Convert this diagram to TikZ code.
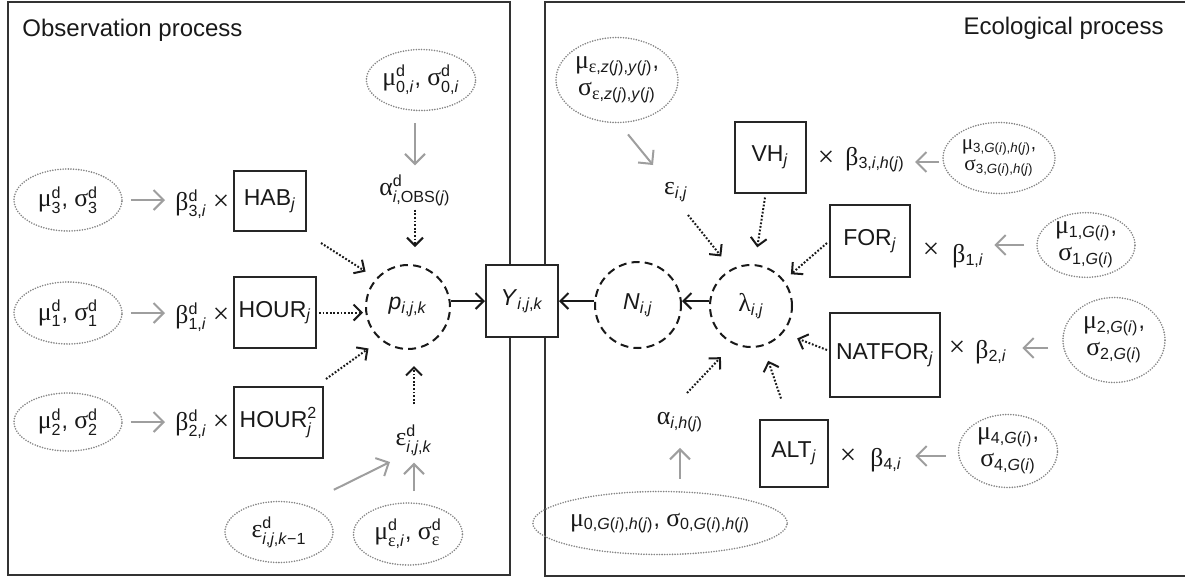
\documentclass[tikz,border=0pt]{standalone}
\usepackage{amsmath}
\usepackage{fontspec}
\setmainfont{Liberation Sans}
\newfontfamily\gkf{Liberation Serif}[Scale=1.12]
\usetikzlibrary{arrows.meta,shapes.geometric}
\newcommand{\SP}[2]{$^{\text{#1}}_{\text{#2}}$}
\newcommand{\SB}[1]{$_{\text{#1}}$}
\newcommand{\gr}[1]{{\gkf #1}}
\newcommand{\vi}{\textit{i}}
\newcommand{\vj}{\textit{j}}
\newcommand{\vk}{\textit{k}}
\newcommand{\vG}{\textit{G}(\textit{i})}
\newcommand{\vh}{\textit{h}(\textit{j})}
\begin{document}
\begin{tikzpicture}[x=0.5pt,y=-0.5pt,
 every node/.style={font=\fontsize{11.5}{13.5}\selectfont, inner sep=1pt, text=black!90},
 box/.style={draw=black!85, line width=1pt, fill=white, inner sep=0pt},
 ell/.style={ellipse, draw=black!48, line width=0.9pt, line cap=round, dash pattern=on 0pt off 1.3pt, inner sep=0pt, align=center},
 circ/.style={circle, draw=black!90, line width=1pt, dash pattern=on 4pt off 2.6pt, inner sep=0pt},
 frame/.style={draw=black!80, line width=1.2pt},
 garr/.style={draw=black!38, line width=1pt, -{Straight Barb[length=5pt,width=10pt]}},
 darr/.style={draw=black!90, line width=1pt, dash pattern=on 0.9pt off 0.9pt, -{Straight Barb[length=4pt,width=8pt]}},
 sarr/.style={draw=black!90, line width=1pt, -{Straight Barb[length=4pt,width=8pt]}},
 lab/.style={anchor=base west},
 tms/.style={anchor=base, font=\fontsize{13}{14}\selectfont\gkf},
]
\useasboundingbox (0,0) rectangle (1185,580);
\draw[frame] (8,2) rectangle (510,575);
\draw[frame] (545,2) rectangle (1195,576);

% titles
\node[anchor=west, font=\fontsize{12}{14}\selectfont] (tobs) at (20,30) {Observation process};
\node[anchor=east, font=\fontsize{12}{14}\selectfont] (teco) at (1166,28) {Ecological process};

% central nodes
\node[circ, minimum size=42pt] (p) at (408,307) {\textit{p}\SB{\vi,\vj,\vk}};
\node[box, minimum size=36pt] (Y) at (522,301) {\textit{Y}\SB{\vi,\vj,\vk}};
\node[circ, minimum size=43pt] (N) at (638,305) {\textit{N}\SB{\vi,\vj}};
\node[circ, minimum size=41pt] (lam) at (751,306) {\gr{λ}\SB{\vi,\vj}};

% left rows
\node[ell, minimum width=54pt, minimum height=31pt] (e3) at (68,200) {\gr{μ}\SP{d}{3}, \gr{σ}\SP{d}{3}};
\node[lab] (b3) at (173,210) {\gr{β}\SP{d}{3,\vi}};
\node[tms] (x3) at (221,210) {×};
\node[box, minimum width=36pt, minimum height=30pt] (hab) at (270,201) {HAB\SB{\vj}};

\node[ell, minimum width=54pt, minimum height=31pt] (e1) at (68,313) {\gr{μ}\SP{d}{1}, \gr{σ}\SP{d}{1}};
\node[lab] (b1d) at (173,323) {\gr{β}\SP{d}{1,\vi}};
\node[tms] (x1) at (221,323) {×};
\node[box, minimum width=41pt, minimum height=35.5pt] (hour) at (275,312.5) {HOUR\SB{\vj}};

\node[ell, minimum width=54pt, minimum height=29pt] (e2) at (68,422) {\gr{μ}\SP{d}{2}, \gr{σ}\SP{d}{2}};
\node[lab] (b2d) at (173,430) {\gr{β}\SP{d}{2,\vi}};
\node[tms] (x2) at (221,430) {×};
\node[box, minimum width=44.5pt, minimum height=35.5pt] (hour2) at (278.5,422.5) {HOUR\SP{2}{\vj}};

\draw[garr, shorten <=4pt, shorten >=4pt] (e3.east) -- (e3.east -| b3.west);
\draw[garr, shorten <=4pt, shorten >=4pt] (e1.east) -- (e1.east -| b1d.west);
\draw[garr, shorten <=4pt, shorten >=4pt] (e2.east) -- (e2.east -| b2d.west);

\draw[darr, shorten >=6.2pt] ([xshift=7pt,yshift=-5.5pt]hab.south east) -- (p.138);
\draw[darr, shorten <=1pt, shorten >=1pt] (hour.east) -- (hour.east -| p.west);
\draw[darr, shorten >=7.3pt] ([xshift=1pt,yshift=3.5pt]hour2.north east) -- (p.230);

% top left
\node[ell, minimum width=54pt, minimum height=30.5pt] (mu0) at (421,80) {\gr{μ}\SP{d}{0,\vi}, \gr{σ}\SP{d}{0,\vi}};
\node (a0) at (415,190) {\gr{α}\SP{d}{\vi,OBS(\vj)}};
\draw[garr, shorten <=6pt, shorten >=3.5pt] (mu0.south -| a0.north) -- (a0.north);
\draw[darr, shorten <=1pt, shorten >=8.5pt] (a0.south) -- (a0.south |- p.north);

% bottom left
\node (ed) at (414,440) {\gr{ε}\SP{d}{\vi,\vj,\vk}};
\node[ell, minimum width=54pt, minimum height=30.5pt] (ek1) at (279,532) {\gr{ε}\SP{d}{\vi,\vj,\vk−1}};
\node[ell, minimum width=54.5pt, minimum height=31pt] (mue) at (408,534) {\gr{μ}\SP{d}{\gr{ε},\vi}, \gr{σ}\SP{d}{\gr{ε}}};
\draw[darr, shorten <=9pt, shorten >=8pt] (ed.north) -- (ed.north |- p.south);
\draw[garr, shorten <=5.5pt, shorten >=2.5pt] (mue.north -| ed.south) -- (ed.south);
\draw[garr] ([xshift=8pt,yshift=10pt]ek1.north east) -- ([xshift=-12pt,yshift=-11pt]ed.center);

% centre connectors
\draw[sarr] (p.east |- Y.west) -- (Y.west);
\draw[sarr] (N.west |- Y.east) -- (Y.east);
\draw[sarr] (lam.west |- Y.east) -- (N.east |- Y.east);

% right top
\node[ell, minimum width=61pt, minimum height=42.5pt] (muez) at (617,80) {\gr{μ}\SB{\gr{ε},\textit{z}(\vj),\textit{y}(\vj)},\\\gr{σ}\SB{\gr{ε},\textit{z}(\vj),\textit{y}(\vj)}};
\node (eij) at (676,192) {\gr{ε}\SB{\vi,\vj}};
\draw[garr] ([xshift=5.5pt,yshift=-5.5pt]muez.south) -- ([xshift=-11.5pt,yshift=13.5pt]eij.center);
\draw[darr, shorten >=8pt] ([xshift=6pt,yshift=-11.5pt]eij.center) -- (lam.118);

% VH row
\node[box, minimum size=35.5pt] (vh) at (770,157) {VH\SB{\vj}};
\node[tms] (x5) at (826,166) {×};
\node[lab] (b5) at (843,165) {\gr{β}\SB{3,\vi,\vh}};
\node[ell, minimum width=56pt, minimum height=35.5pt, font=\fontsize{9.5}{10.5}\selectfont] (e3G) at (999,158) {\gr{μ}\SB{3,\vG,\vh},\\\gr{σ}\SB{3,\vG,\vh}};
\path (e3G.west) ++(-1.5pt,-2pt) coordinate (s5);
\draw[garr, shorten >=4pt] (s5) -- (s5 -| b5.east);
\draw[darr, shorten >=8.5pt] ([xshift=-2.5pt,yshift=-2pt]vh.south) -- (lam.85);

% FOR row
\node[box, minimum width=40pt, minimum height=36pt] (for) at (870,241) {FOR\SB{\vj}};
\node[tms] (x6) at (931,258) {×};
\node[lab] (b6) at (950,262) {\gr{β}\SB{1,\vi}};
\node[ell, minimum width=49pt, minimum height=32pt] (e1G) at (1086,245) {\gr{μ}\SB{1,\vG},\\\gr{σ}\SB{1,\vG}};
\draw[garr, shorten <=6pt, shorten >=4pt] (e1G.west) -- (e1G.west -| b6.east);
\draw[darr, shorten >=4.5pt] ([xshift=-1pt,yshift=-1pt]for.west) -- (lam.38);

% NATFOR row
\node[box, minimum width=55pt, minimum height=42pt] (natfor) at (885,355) {NATFOR\SB{\vj}};
\node[tms] (x7) at (957,356) {×};
\node[lab] (b7) at (973,358) {\gr{β}\SB{2,\vi}};
\node[ell, minimum width=51pt, minimum height=42.5pt] (e2G) at (1114,340) {\gr{μ}\SB{2,\vG},\\\gr{σ}\SB{2,\vG}};
\path (e2G.west) ++(-7pt,-4pt) coordinate (s7);
\draw[garr, shorten >=6.5pt] (s7) -- (s7 -| b7.east);
\draw[darr, shorten >=7.5pt] ([xshift=-1pt,yshift=2.5pt]natfor.west) -- (lam.320);

% ALT row
\node[box, minimum width=34pt, minimum height=33.5pt] (alt) at (794,453) {ALT\SB{\vj}};
\node[tms] (x8) at (848,464) {×};
\node[lab] (b8) at (868,466) {\gr{β}\SB{4,\vi}};
\node[ell, minimum width=49.5pt, minimum height=36.5pt] (e4G) at (1008,451) {\gr{μ}\SB{4,\vG},\\\gr{σ}\SB{4,\vG}};
\path (e4G.west) ++(-6pt,-2.5pt) coordinate (s8);
\draw[garr, shorten >=5.5pt] (s8) -- (s8 -| b8.east);
\draw[darr, shorten >=7.7pt] ([xshift=-6.5pt,yshift=10pt]alt.north) -- (lam.287);

% alpha
\node (aih) at (680,422) {\gr{α}\SB{\vi,\vh}};
\node[ell, minimum width=97pt, minimum height=31.5pt] (e0G) at (660,523) {\gr{μ}\SB{0,\vG,\vh}, \gr{σ}\SB{0,\vG,\vh}};
\draw[garr, shorten <=6pt, shorten >=7pt] (e0G.north -| aih.south) -- (aih.south);
\draw[darr, shorten >=9pt] ([xshift=3.5pt,yshift=14.5pt]aih.center) -- (lam.245);
\end{tikzpicture}
\end{document}
